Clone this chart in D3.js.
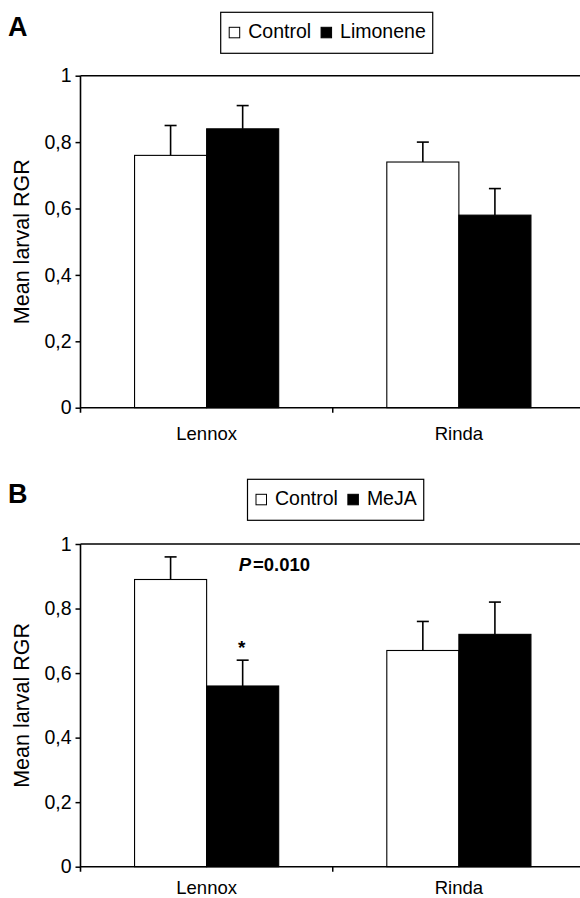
<!DOCTYPE html>
<html>
<head>
<meta charset="utf-8">
<script src="https://cdn.jsdelivr.net/npm/d3@7"></script>
<style>
  body { margin: 0; background: #fff; }
  text { font-family: "Liberation Sans", Arial, sans-serif; fill: #000; }
</style>
</head>
<body>
<div class="chart"></div>
<script>
// data
var groups = ["Lennox", "Rinda"];
var yTicks = [0, 0.2, 0.4, 0.6, 0.8, 1];

var seriesA = ["Control", "Limonene"];
var controlA = [0.76, 0.74];
var controlAErr = [0.09, 0.06];
var limonene = [0.84, 0.58];
var limoneneErr = [0.07, 0.08];

var seriesB = ["Control", "MeJA"];
var controlB = [0.89, 0.67];
var controlBErr = [0.07, 0.09];
var meja = [0.56, 0.72];
var mejaErr = [0.08, 0.10];

var pValue = "=0.010";
var starGroup = "Lennox";

var fills = ["#fff", "#000"];
var fmt = d3.formatLocale({decimal: ",", thousands: ".", grouping: [3], currency: ["", ""]}).format("~g");

var svg = d3.select('.chart')
    .append('svg')
    .attr('width', 580)
    .attr('height', 898);

drawPanel({
    letter: "A", top: 75.7, bottom: 407.7, legendX: 220.7, legendY: 12.3, letterY: 36,
    labelY: 439.5, series: seriesA, values: [controlA, limonene], errors: [controlAErr, limoneneErr]
});
var b = drawPanel({
    letter: "B", top: 544, bottom: 866.7, legendX: 247.5, legendY: 479.3, letterY: 502.7,
    labelY: 893.5, series: seriesB, values: [controlB, meja], errors: [controlBErr, mejaErr]
});

// significance annotation on panel B
var gi = groups.indexOf(starGroup);
var sx = b.x(starGroup) + b.inner(seriesB[1]) + b.inner.bandwidth() / 2;
b.g.append('text')
    .attr('x', sx - 1)
    .attr('y', b.y(meja[gi] + mejaErr[gi]) - 6)
    .attr('text-anchor', 'middle')
    .attr('font-size', 19)
    .attr('font-weight', 'bold')
    .text('*');
var pt = b.g.append('text')
    .attr('x', sx - 4)
    .attr('y', 570.7)
    .attr('font-size', 18.5)
    .attr('font-weight', 'bold');
pt.append('tspan').attr('font-style', 'italic').text('P');
pt.append('tspan').attr('dx', 2).text(pValue);

function drawPanel(c) {
    var left = 80.5, right = 585;
    var g = svg.append('g');

    var x = d3.scaleBand().domain(groups).range([left, right]);
    var inner = d3.scaleBand().domain(c.series).range([0, x.bandwidth()]).paddingOuter(0.75);
    var y = d3.scaleLinear().domain([0, 1]).range([c.bottom, c.top]);

    // panel letter
    g.append('text')
        .attr('x', 8)
        .attr('y', c.letterY)
        .attr('font-size', 27)
        .attr('font-weight', 'bold')
        .text(c.letter);

    // legend box
    var lg = g.append('g').attr('transform', 'translate(' + c.legendX + ',' + c.legendY + ')');
    var box = lg.append('rect')
        .attr('height', 41)
        .attr('fill', '#fff')
        .attr('stroke', '#000')
        .attr('stroke-width', 1.2);
    var cx = 8.5;
    c.series.forEach(function(s, i) {
        lg.append('rect')
            .attr('x', cx)
            .attr('y', 15)
            .attr('width', 10.5)
            .attr('height', 10.5)
            .attr('fill', fills[i])
            .attr('stroke', '#000')
            .attr('stroke-width', 1);
        var t = lg.append('text')
            .attr('x', cx + 19)
            .attr('y', 25.5)
            .attr('font-size', 19.5)
            .text(s);
        cx += 19 + t.node().getComputedTextLength() + 10;
    });
    box.attr('width', cx - 3);

    // plot area top border
    g.append('line')
        .attr('x1', left).attr('x2', right)
        .attr('y1', c.top).attr('y2', c.top)
        .attr('stroke', '#000').attr('stroke-width', 1.6);

    // bars
    var rows = [];
    groups.forEach(function(grp, gi) {
        c.series.forEach(function(s, si) {
            rows.push({group: grp, series: s, si: si, v: c.values[si][gi], e: c.errors[si][gi]});
        });
    });
    var bars = g.selectAll('.bar')
        .data(rows)
        .enter()
        .append('g')
        .attr('class', 'bar');
    // error bars go behind the bar so only the upper half shows
    bars.append('line')
        .attr('x1', function(d) { return x(d.group) + inner(d.series) + inner.bandwidth() / 2; })
        .attr('x2', function(d) { return x(d.group) + inner(d.series) + inner.bandwidth() / 2; })
        .attr('y1', function(d) { return y(d.v); })
        .attr('y2', function(d) { return y(d.v + d.e); })
        .attr('stroke', '#000').attr('stroke-width', 1.6);
    bars.append('line')
        .attr('x1', function(d) { return x(d.group) + inner(d.series) + inner.bandwidth() / 2 - 6; })
        .attr('x2', function(d) { return x(d.group) + inner(d.series) + inner.bandwidth() / 2 + 6; })
        .attr('y1', function(d) { return y(d.v + d.e); })
        .attr('y2', function(d) { return y(d.v + d.e); })
        .attr('stroke', '#000').attr('stroke-width', 1.6);
    bars.append('rect')
        .attr('x', function(d) { return x(d.group) + inner(d.series); })
        .attr('y', function(d) { return y(d.v); })
        .attr('width', inner.bandwidth())
        .attr('height', function(d) { return y(0) - y(d.v); })
        .attr('fill', function(d) { return fills[d.si]; })
        .attr('stroke', '#000')
        .attr('stroke-width', 1.1);

    // y axis
    var ya = g.append('g')
        .attr('transform', 'translate(' + left + ',0)')
        .call(d3.axisLeft(y).tickValues(yTicks).tickFormat(fmt).tickSize(5).tickPadding(4));
    ya.select('.domain').attr('stroke-width', 1.6).attr('d', 'M0,' + c.top + 'V' + (c.bottom + 5));
    ya.selectAll('.tick line').attr('stroke-width', 1.5);
    ya.selectAll('.tick text').attr('font-size', 19.5).attr('font-family', '"Liberation Sans", Arial, sans-serif');

    // x axis: ticks on category boundaries, labels centred
    var xa = g.append('g')
        .attr('transform', 'translate(0,' + c.bottom + ')')
        .call(d3.axisBottom(x).tickSize(0).tickFormat(''));
    xa.select('.domain').attr('stroke-width', 1.6).attr('d', 'M' + left + ',0H' + right);
    xa.selectAll('.bound')
        .data(groups.slice(1))
        .enter()
        .append('line')
        .attr('class', 'bound')
        .attr('x1', function(d) { return x(d); })
        .attr('x2', function(d) { return x(d); })
        .attr('y1', 0).attr('y2', 5)
        .attr('stroke', '#000').attr('stroke-width', 1.5);
    g.selectAll('.xlab')
        .data(groups)
        .enter()
        .append('text')
        .attr('class', 'xlab')
        .attr('x', function(d) { return x(d) + x.bandwidth() / 2; })
        .attr('y', c.labelY)
        .attr('text-anchor', 'middle')
        .attr('font-size', 18.5)
        .text(function(d) { return d; });

    // y title
    g.append('text')
        .attr('transform', 'translate(29,' + (c.top + c.bottom) / 2 + ') rotate(-90)')
        .attr('text-anchor', 'middle')
        .attr('font-size', 21.5)
        .text('Mean larval RGR');

    return {g: g, x: x, inner: inner, y: y};
}
</script>
</body>
</html>
